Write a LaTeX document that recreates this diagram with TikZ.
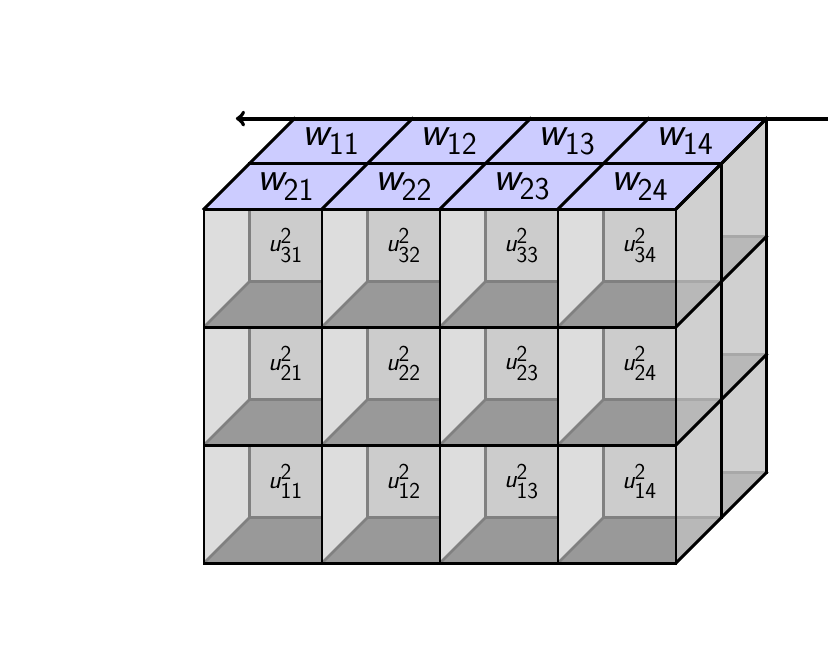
\documentclass[tikz,border=0pt]{standalone}
\usepackage{amsmath}

\definecolor{topblue}{HTML}{CCCCFF}
\definecolor{wallleft}{HTML}{DDDDDD}
\definecolor{wallback}{HTML}{CCCCCC}
\definecolor{floordark}{HTML}{999999}
\definecolor{edgegray}{HTML}{808080}
\definecolor{sideface}{HTML}{D0D0D0}
\definecolor{sidefloor}{HTML}{B8B8B8}
\definecolor{sideedge}{HTML}{A8A8A8}

\newcommand{\digs}[2]{\mbox{\fontsize{#1}{#1}\selectfont\sffamily #2}}
\newcommand{\ulabel}[1]{$\textit{u}^{\digs{16.5}{2}}_{\digs{16.5}{#1}}$}
\newcommand{\wlabel}[1]{$\textit{w}_{\digs{23}{#1}}$}
\newcommand{\dd}{1.15}

\tikzset{
	blackedge/.style={line width=2.15pt,black,line cap=rect},
	grayedge/.style={line width=2pt,edgegray},
	sideline/.style={line width=2pt,sideedge},
	ucell/.style={inner sep=0pt,font=\sffamily\fontsize{18.5}{18.5}\selectfont},
	wcell/.style={inner sep=0pt,font=\sffamily\fontsize{30}{30}\selectfont}
}

\begin{document}
\begin{tikzpicture}
	\useasboundingbox (-5.187,-2.212) rectangle (15.865,14.315);

	% right hand side of the block
	\fill[sideface] (12,9) -- ++(2*\dd,2*\dd) -- (12+2*\dd,2*\dd) -- (12,0) -- cycle;
	\foreach \r in {0,1,2}
		\foreach \d in {0,1} {
			\fill[sidefloor] (12+\d*\dd,3*\r+\d*\dd) -- ++(\dd,\dd) -- ++(-\dd,0) -- cycle;
			\draw[sideline] (12+\d*\dd,3*\r+\d*\dd+\dd) -- ++(\dd,0);
		}

	% front cells
	\foreach \r in {0,1,2}
		\foreach \c in {0,1,2,3} {
			\fill[wallleft] (3*\c,3*\r) -- ++(\dd,\dd) -- (3*\c+\dd,3*\r+3) -- (3*\c,3*\r+3) -- cycle;
			\fill[wallback] (3*\c+\dd,3*\r+\dd) rectangle (3*\c+3,3*\r+3);
			\fill[floordark] (3*\c,3*\r) -- ++(\dd,\dd) -- (3*\c+3,3*\r+\dd) -- (3*\c+3,3*\r) -- cycle;
			\draw[grayedge] (3*\c+\dd,3*\r+3) -- (3*\c+\dd,3*\r+\dd) -- (3*\c+3,3*\r+\dd);
			\draw[grayedge] (3*\c+\dd,3*\r+\dd) -- (3*\c,3*\r);
		}

	% top faces
	\fill[topblue] (0,9) -- (12,9) -- ++(2*\dd,2*\dd) -- (2*\dd,9+2*\dd) -- cycle;

	% black edges
	\foreach \r in {0,1,2,3} {
		\draw[blackedge] (0,3*\r) -- (12,3*\r);
		\draw[blackedge] (12,3*\r) -- ++(2*\dd,2*\dd);
	}
	\foreach \c in {0,1,2,3,4} {
		\draw[blackedge] (3*\c,0) -- (3*\c,9);
		\draw[blackedge] (3*\c,9) -- ++(2*\dd,2*\dd);
	}
	\draw[blackedge] (12+\dd,\dd) -- (12+\dd,9+\dd);
	\draw[blackedge] (12+2*\dd,2*\dd) -- (12+2*\dd,9+2*\dd);
	\draw[blackedge] (\dd,9+\dd) -- (12+\dd,9+\dd);

	% arrow along the back edge
	\coordinate (arrowstart) at (15.865,9+2*\dd);
	\coordinate (arrowend) at (0.81,9+2*\dd);
	\draw[line width=2.9pt,->] (arrowstart) -- (arrowend);

	% labels
	\foreach \r/\n in {0/1,1/2,2/3}
		\foreach \c/\m in {0/1,1/2,2/3,3/4}
			\node[ucell] (u\n\m) at (3*\c+\dd/2+1.5,3*\r+\dd/2+1.5) {\ulabel{\n\m}};
	\foreach \d/\n in {0/2,1/1}
		\foreach \c/\m in {0/1,1/2,2/3,3/4}
			\node[wcell] (w\n\m) at (3*\c+1.5+\d*\dd+\dd/2,9+\d*\dd+\dd/2) {\wlabel{\n\m}};
\end{tikzpicture}
\end{document}
